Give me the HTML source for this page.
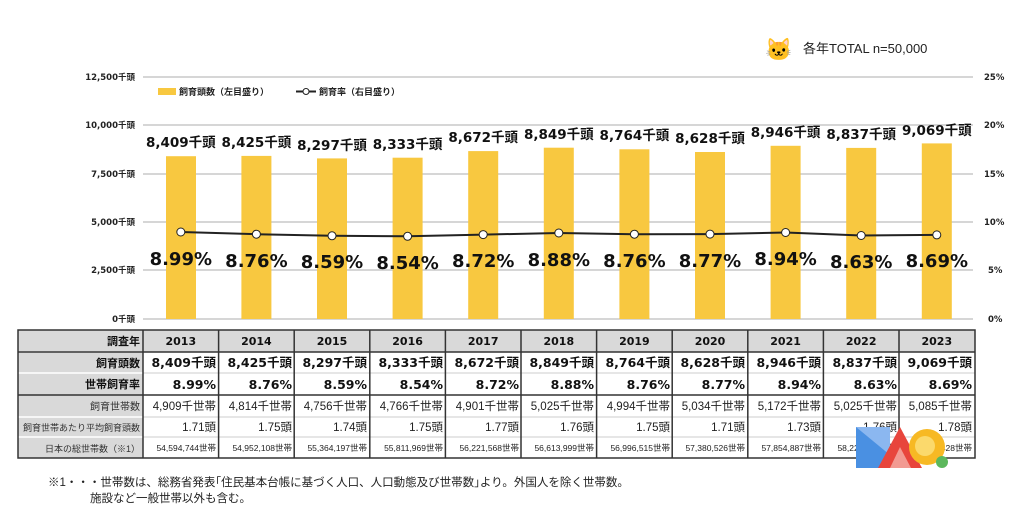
<!DOCTYPE html>
<html><head><meta charset="utf-8"><style>
body{margin:0;background:#fff;width:1024px;height:522px;overflow:hidden;font-family:"Liberation Sans","Noto Sans CJK JP",sans-serif;}
</style></head><body>
<svg width="1024" height="522" xmlns="http://www.w3.org/2000/svg" font-family="Liberation Sans, Noto Sans CJK JP, sans-serif">
<g stroke="#c8c8c8" stroke-width="1.5">
<line x1="143" y1="77" x2="973" y2="77"/><line x1="143" y1="125" x2="973" y2="125"/>
<line x1="143" y1="174" x2="973" y2="174"/><line x1="143" y1="222" x2="973" y2="222"/>
<line x1="143" y1="270" x2="973" y2="270"/><line x1="143" y1="319" x2="973" y2="319"/>
</g>
<g font-size="8.5" font-weight="bold" fill="#222" text-anchor="end" font-family="DejaVu Sans, Noto Sans CJK JP, sans-serif">
<text x="135" y="80">12,500千頭</text><text x="135" y="128">10,000千頭</text><text x="135" y="177">7,500千頭</text>
<text x="135" y="225">5,000千頭</text><text x="135" y="273">2,500千頭</text><text x="135" y="322">0千頭</text>
</g>
<g font-size="8.5" font-weight="bold" fill="#222" font-family="DejaVu Sans, sans-serif">
<text x="984" y="80">25%</text><text x="984" y="128">20%</text><text x="984" y="177">15%</text>
<text x="984" y="225">10%</text><text x="988" y="273">5%</text><text x="988" y="322">0%</text>
</g>
<rect x="158" y="88" width="18" height="7" fill="#f8c840"/>
<text x="179" y="95" font-size="9" font-weight="bold" fill="#222">飼育頭数（左目盛り）</text>
<line x1="296" y1="91.5" x2="316" y2="91.5" stroke="#222" stroke-width="2"/><circle cx="306" cy="91.5" r="3" fill="#fff" stroke="#222"/>
<text x="319" y="95" font-size="9" font-weight="bold" fill="#222">飼育率（右目盛り）</text>
<text x="765" y="57" font-size="22">🐱</text>
<text x="803" y="53" font-size="13" fill="#222">各年TOTAL n=50,000</text>
<g fill="#f8c840">
<rect x="166" y="156.2" width="30" height="162.8"/><rect x="241.4" y="155.9" width="30" height="163.1"/>
<rect x="317" y="158.4" width="30" height="160.6"/><rect x="392.6" y="157.7" width="30" height="161.3"/>
<rect x="468.2" y="151.1" width="30" height="167.9"/><rect x="543.8" y="147.7" width="30" height="171.3"/>
<rect x="619.4" y="149.3" width="30" height="169.7"/><rect x="695" y="152" width="30" height="167"/>
<rect x="770.6" y="145.8" width="30" height="173.2"/><rect x="846.2" y="147.9" width="30" height="171.1"/>
<rect x="921.8" y="143.4" width="30" height="175.6"/>
</g>
<g font-size="13.5" font-weight="bold" fill="#111" text-anchor="middle" font-family="DejaVu Sans, Noto Sans CJK JP, sans-serif">
<text x="180.8" y="147">8,409千頭</text><text x="256.4" y="147">8,425千頭</text><text x="332" y="150">8,297千頭</text>
<text x="407.6" y="149">8,333千頭</text><text x="483.2" y="142">8,672千頭</text><text x="558.8" y="139">8,849千頭</text>
<text x="634.4" y="140">8,764千頭</text><text x="710" y="143">8,628千頭</text><text x="785.6" y="137">8,946千頭</text>
<text x="861.2" y="139">8,837千頭</text><text x="936.8" y="135">9,069千頭</text>
</g>
<polyline fill="none" stroke="#222" stroke-width="2" points="180.8,232 256.4,234.2 332,235.8 407.6,236.3 483.2,234.6 558.8,233 634.4,234.2 710,234.1 785.6,232.5 861.2,235.5 936.8,234.9"/>
<g fill="#fff" stroke="#222" stroke-width="1">
<circle cx="180.8" cy="232" r="4"/><circle cx="256.4" cy="234.2" r="4"/><circle cx="332" cy="235.8" r="4"/>
<circle cx="407.6" cy="236.3" r="4"/><circle cx="483.2" cy="234.6" r="4"/><circle cx="558.8" cy="233" r="4"/>
<circle cx="634.4" cy="234.2" r="4"/><circle cx="710" cy="234.1" r="4"/><circle cx="785.6" cy="232.5" r="4"/>
<circle cx="861.2" cy="235.5" r="4"/><circle cx="936.8" cy="234.9" r="4"/>
</g>
<g font-size="18" font-weight="bold" fill="#111" text-anchor="middle" font-family="DejaVu Sans, sans-serif">
<text x="180.8" y="265">8.99%</text><text x="256.4" y="267">8.76%</text><text x="332" y="268">8.59%</text>
<text x="407.6" y="269">8.54%</text><text x="483.2" y="267">8.72%</text><text x="558.8" y="266">8.88%</text>
<text x="634.4" y="267">8.76%</text><text x="710" y="267">8.77%</text><text x="785.6" y="265">8.94%</text>
<text x="861.2" y="268">8.63%</text><text x="936.8" y="267">8.69%</text>
</g>
<rect x="18" y="330" width="125" height="128" fill="#d9d9d9"/>
<rect x="143" y="330" width="832" height="22" fill="#d9d9d9"/>
<g stroke="#fff" stroke-width="1.5">
<line x1="18" y1="352" x2="143" y2="352"/><line x1="18" y1="373" x2="143" y2="373"/>
<line x1="18" y1="417" x2="143" y2="417"/><line x1="18" y1="437" x2="143" y2="437"/>
</g>
<g stroke="#ddd" stroke-width="1.5">
<line x1="143" y1="373" x2="975" y2="373"/><line x1="143" y1="417" x2="975" y2="417"/><line x1="143" y1="437" x2="975" y2="437"/>
</g>
<g stroke="#333" stroke-width="1.5" fill="none">
<rect x="18" y="330" width="957" height="128"/>
<line x1="18" y1="352" x2="975" y2="352"/><line x1="18" y1="395" x2="975" y2="395"/>
<line x1="143" y1="330" x2="143" y2="458"/><line x1="218.6" y1="330" x2="218.6" y2="458"/>
<line x1="294.2" y1="330" x2="294.2" y2="458"/><line x1="369.8" y1="330" x2="369.8" y2="458"/>
<line x1="445.4" y1="330" x2="445.4" y2="458"/><line x1="521" y1="330" x2="521" y2="458"/>
<line x1="596.6" y1="330" x2="596.6" y2="458"/><line x1="672.2" y1="330" x2="672.2" y2="458"/>
<line x1="747.8" y1="330" x2="747.8" y2="458"/><line x1="823.4" y1="330" x2="823.4" y2="458"/>
<line x1="899" y1="330" x2="899" y2="458"/>
</g>
<g font-size="11" fill="#111" text-anchor="end">
<text x="140" y="345" font-weight="bold">調査年</text>
<text x="140" y="367" font-weight="bold">飼育頭数</text>
<text x="140" y="388" font-weight="bold">世帯飼育率</text>
<text x="140" y="410" font-size="10" fill="#333">飼育世帯数</text>
<text x="140" y="431" font-size="9" fill="#333">飼育世帯あたり平均飼育頭数</text>
<text x="140" y="452" font-size="9" fill="#333">日本の総世帯数（※1）</text>
</g>
<g font-size="11" font-weight="bold" fill="#111" text-anchor="middle" font-family="DejaVu Sans, sans-serif">
<text x="180.8" y="345">2013</text><text x="256.4" y="345">2014</text><text x="332" y="345">2015</text><text x="407.6" y="345">2016</text>
<text x="483.2" y="345">2017</text><text x="558.8" y="345">2018</text><text x="634.4" y="345">2019</text><text x="710" y="345">2020</text>
<text x="785.6" y="345">2021</text><text x="861.2" y="345">2022</text><text x="936.8" y="345">2023</text>
</g>
<g font-size="12.5" font-weight="bold" fill="#111" text-anchor="end" font-family="DejaVu Sans, Noto Sans CJK JP, sans-serif">
<text x="216" y="367">8,409千頭</text><text x="292" y="367">8,425千頭</text><text x="367" y="367">8,297千頭</text><text x="443" y="367">8,333千頭</text>
<text x="519" y="367">8,672千頭</text><text x="594" y="367">8,849千頭</text><text x="670" y="367">8,764千頭</text><text x="745" y="367">8,628千頭</text>
<text x="821" y="367">8,946千頭</text><text x="897" y="367">8,837千頭</text><text x="972" y="367">9,069千頭</text>
<text x="216" y="389">8.99%</text><text x="292" y="389">8.76%</text><text x="367" y="389">8.59%</text><text x="443" y="389">8.54%</text>
<text x="519" y="389">8.72%</text><text x="594" y="389">8.88%</text><text x="670" y="389">8.76%</text><text x="745" y="389">8.77%</text>
<text x="821" y="389">8.94%</text><text x="897" y="389">8.63%</text><text x="972" y="389">8.69%</text>
</g>
<g font-size="11.5" fill="#222" text-anchor="end">
<text x="216" y="410">4,909千世帯</text><text x="292" y="410">4,814千世帯</text><text x="367" y="410">4,756千世帯</text><text x="443" y="410">4,766千世帯</text>
<text x="519" y="410">4,901千世帯</text><text x="594" y="410">5,025千世帯</text><text x="670" y="410">4,994千世帯</text><text x="745" y="410">5,034千世帯</text>
<text x="821" y="410">5,172千世帯</text><text x="897" y="410">5,025千世帯</text><text x="972" y="410">5,085千世帯</text>
<text x="216" y="431">1.71頭</text><text x="292" y="431">1.75頭</text><text x="367" y="431">1.74頭</text><text x="443" y="431">1.75頭</text>
<text x="519" y="431">1.77頭</text><text x="594" y="431">1.76頭</text><text x="670" y="431">1.75頭</text><text x="745" y="431">1.71頭</text>
<text x="821" y="431">1.73頭</text><text x="897" y="431">1.76頭</text><text x="972" y="431">1.78頭</text>
</g>
<g font-size="8.5" fill="#222" text-anchor="end">
<text x="216" y="451">54,594,744世帯</text><text x="292" y="451">54,952,108世帯</text><text x="367" y="451">55,364,197世帯</text><text x="443" y="451">55,811,969世帯</text>
<text x="519" y="451">56,221,568世帯</text><text x="594" y="451">56,613,999世帯</text><text x="670" y="451">56,996,515世帯</text><text x="745" y="451">57,380,526世帯</text>
<text x="821" y="451">57,854,887世帯</text><text x="897" y="451">58,227,000世帯</text><text x="972" y="451">58,428,428世帯</text>
</g>
<polygon points="856,427 890,427 890,468 856,468" fill="#4a90e2"/>
<polygon points="856,427 890,427 890,455" fill="#8bb7f0"/>
<polygon points="878,468 900,427 922,468" fill="#e8453c"/>
<polygon points="890,468 900,447 911,468" fill="#f29a92"/>
<circle cx="927" cy="447" r="18" fill="#f7b924"/>
<circle cx="925" cy="446" r="10" fill="#fbd96c"/>
<circle cx="942" cy="462" r="6" fill="#5cb85c"/>
<text x="48" y="486" font-size="11.5" fill="#222">※1・・・世帯数は、総務省発表｢住民基本台帳に基づく人口、人口動態及び世帯数｣より。外国人を除く世帯数。</text>
<text x="90" y="502" font-size="11.5" fill="#222">施設など一般世帯以外も含む。</text>
</svg>
</body></html>
